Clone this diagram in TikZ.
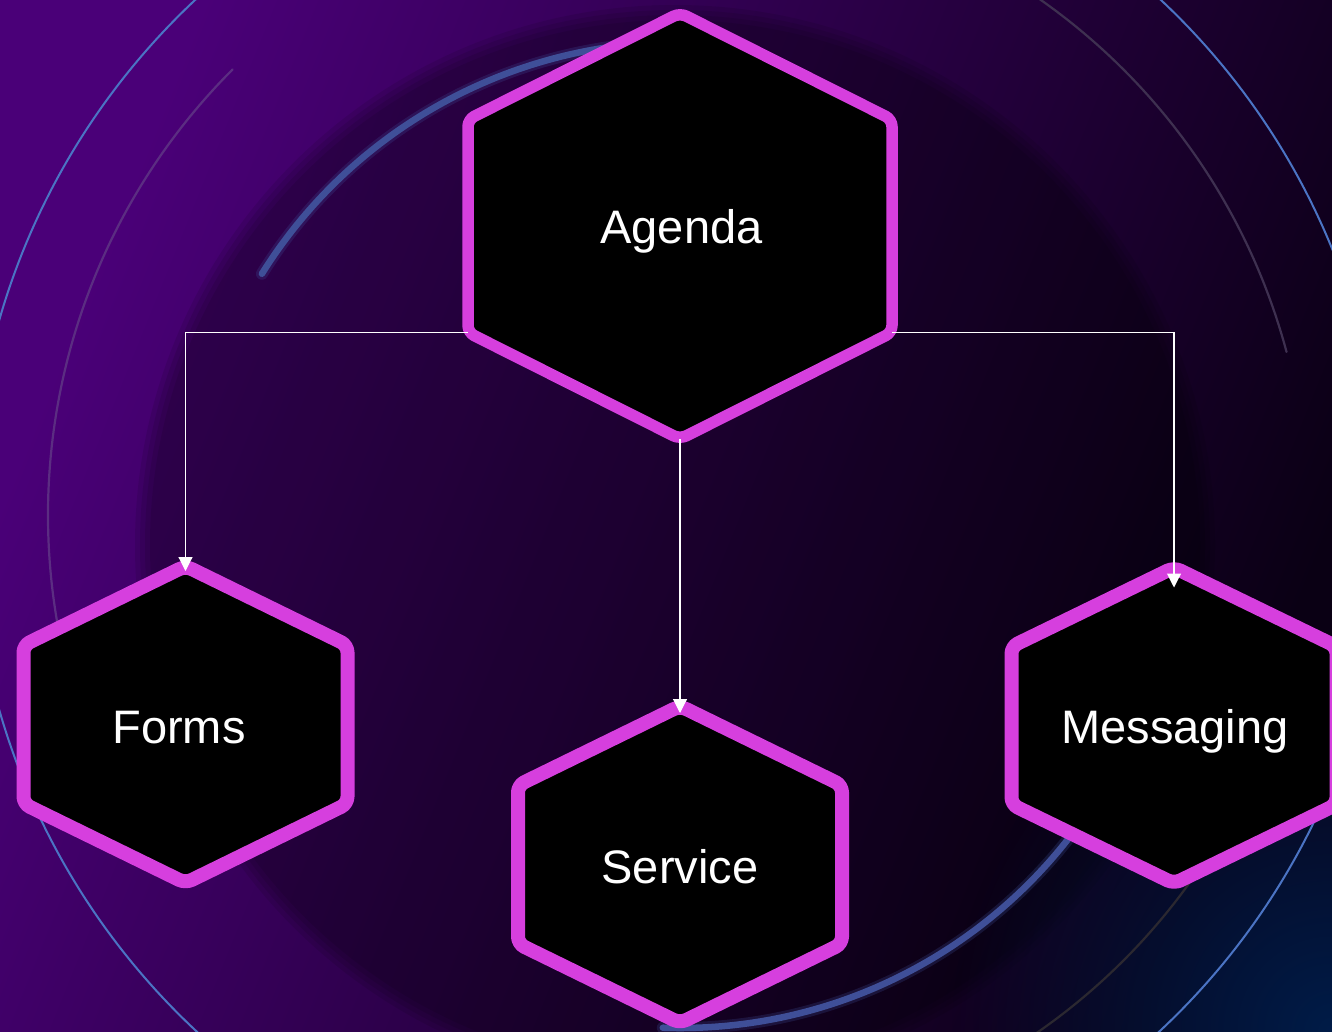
\documentclass[tikz,border=0pt]{standalone}
\usepackage{fontspec}
\setmainfont{Liberation Sans}
\usetikzlibrary{arrows.meta,fadings,calc}
\definecolor{hexmag}{HTML}{D63FDE}
\definecolor{bgA}{HTML}{4A0078}
\definecolor{bgB}{HTML}{0A0014}
\definecolor{thinblue}{HTML}{4B74C4}
\definecolor{thickblue}{HTML}{3F4F98}
\definecolor{faintL}{HTML}{5B2D82}
\definecolor{faintR}{HTML}{3E3050}
\definecolor{faintB}{HTML}{2B2830}
\definecolor{glowblue}{RGB}{0,28,72}
\tikzfading[name=glowfade, inner color=transparent!0, outer color=transparent!100]
\newcommand{\HexBox}[9]{%
  \coordinate (#1-top) at (#2,{-#3+#4});
  \coordinate (#1-ur)  at ({#2+#5},{-#3+#4/2});
  \coordinate (#1-lr)  at ({#2+#5},{-#3-#4/2});
  \coordinate (#1-bot) at (#2,{-#3-#4});
  \coordinate (#1-ll)  at ({#2-#5},{-#3-#4/2});
  \coordinate (#1-ul)  at ({#2-#5},{-#3+#4/2});
  \draw[hexstyle, line width=#6] ({#2-#5},-#3) -- (#1-ul) -- (#1-top) -- (#1-ur)
     -- (#1-lr) -- (#1-bot) -- (#1-ll) -- cycle;
  \node[hexlabel] (#1) at (#7,-#8) {#9};
}
\begin{document}
\begin{tikzpicture}[x=1pt,y=1pt,
  hexstyle/.style={draw=hexmag, fill=black, rounded corners=7pt, line join=round},
  hexlabel/.style={text=white, anchor=base, inner sep=0pt, font=\fontsize{47}{56}\selectfont},
  conn/.style={draw=white, line width=1.1pt, -{Triangle[length=14pt,width=14pt]}},
  thin arc/.style={line width=2.2pt, line cap=round},
]
\useasboundingbox (0,0) rectangle (1332,-1031);
\clip (0,0) rectangle (1332,-1031);
% background
\shade[top color=bgA, bottom color=bgB, shading angle=68] (0,0) rectangle (1332,-1031);
% dark disk
\foreach \r in {540,535,530,525}{
  \fill[black, opacity=0.09] (675,-545) circle (\r);
}
% blue glow bottom right
\fill[glowblue, path fading=glowfade] (1332,-1031) circle (380);
% arcs
\draw[thinblue, line width=2pt] (678,-515) circle (706);
\draw[faintL, thin arc] (678,-515) ++(135:630) arc[start angle=135, end angle=191, radius=630];
\draw[faintR, thin arc] (678,-515) ++(62:630) arc[start angle=62, end angle=15, radius=630];
\draw[faintB, thin arc] (678,-515) ++(-25:630) arc[start angle=-25, end angle=-75, radius=630];
\draw[thickblue, line width=12pt, opacity=0.25, line cap=round] (680,-535) ++(148:493) arc[start angle=148, end angle=84, radius=493];
\draw[thickblue, line width=6.5pt, line cap=round] (680,-535) ++(148:493) arc[start angle=148, end angle=84, radius=493];
\draw[thickblue, line width=12pt, opacity=0.25, line cap=round] (680,-535) ++(-20:493) arc[start angle=-20, end angle=-92, radius=493];
\draw[thickblue, line width=6.5pt, line cap=round] (680,-535) ++(-20:493) arc[start angle=-20, end angle=-92, radius=493];
% hexagons
\HexBox{agenda}{680}{226}{213}{212}{11.5pt}{681.5}{243}{Agenda}
\HexBox{forms}{185.5}{724.5}{158.5}{162}{14pt}{179}{743}{Forms}
\HexBox{service}{680}{864.5}{158.5}{162}{14pt}{680}{883}{Service}
\HexBox{messaging}{1174}{725.5}{158}{162.5}{14pt}{1175}{743}{Messaging}
% connectors
\draw[conn] (agenda-ll) -| ([yshift=-5pt]forms-top);
\draw[conn] (agenda-bot) -- ([yshift=-7pt]service-top);
\draw[conn] (agenda-lr) -| ([yshift=-20pt]messaging-top);
\end{tikzpicture}
\end{document}
